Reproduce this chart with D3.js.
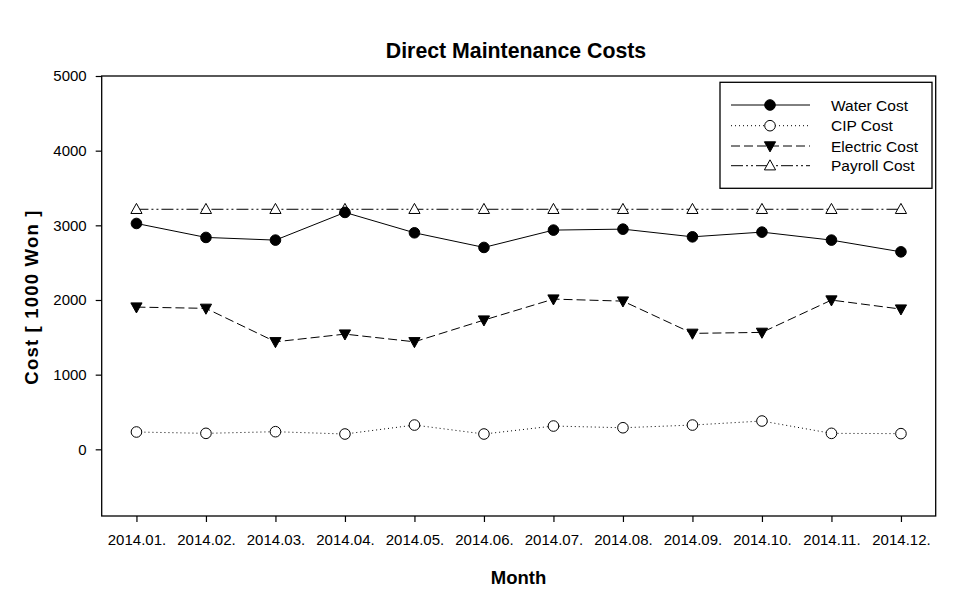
<!DOCTYPE html>
<html><head><meta charset="utf-8">
<script src="https://cdn.jsdelivr.net/npm/d3@7"></script>
<style>body{margin:0;background:#fff}svg{display:block}text{font-family:"Liberation Sans",Arial,sans-serif}</style>
</head><body>
<svg id="c" width="980" height="607"></svg>
<script>
const months = ["2014.01.","2014.02.","2014.03.","2014.04.","2014.05.","2014.06.","2014.07.","2014.08.","2014.09.","2014.10.","2014.11.","2014.12."];
const waterCost = [3025,2838,2802,3173,2900,2704,2936,2949,2846,2909,2802,2645];
const cipCost = [232,214,236,205,325,205,312,289,325,379,214,210];
const electricCost = [1905,1888,1440,1543,1440,1731,2012,1985,1553,1566,1999,1878];
const payrollCost = [3215,3215,3215,3215,3215,3215,3215,3215,3215,3215,3215,3215];
const yTicks = [0,1000,2000,3000,4000,5000];
const seriesNames = ["Water Cost","CIP Cost","Electric Cost","Payroll Cost"];

const svg = d3.select("#c");
const L=101.7, R=935.7, T=76, B=516;
const x = d3.scalePoint().domain(months).range([L,R]).padding(0.5);
const y = d3.scaleLinear().domain([-893,5000]).range([B,T]);

svg.append("rect").attr("x",L).attr("y",T).attr("width",R-L).attr("height",B-T)
  .attr("fill","none").attr("stroke","#000").attr("stroke-width",1.3);

const ya = svg.append("g").attr("transform",`translate(${L},0)`)
  .call(d3.axisLeft(y).tickValues(yTicks).tickSize(6).tickPadding(9).tickFormat(d3.format("d")));
const xa = svg.append("g").attr("transform",`translate(0,${B})`)
  .call(d3.axisBottom(x).tickSize(6).tickPadding(12));
[ya,xa].forEach(a=>{a.select(".domain").remove();
  a.selectAll("line").attr("stroke","#000").attr("stroke-width",1.2);
  a.selectAll("text").attr("font-size",15).attr("fill","#000").attr("font-family","'Liberation Sans',Arial,sans-serif");});

svg.append("text").attr("x",516).attr("y",58).attr("text-anchor","middle")
  .attr("font-size",21.3).attr("font-weight","bold").text("Direct Maintenance Costs");
svg.append("text").attr("x",518.5).attr("y",584).attr("text-anchor","middle")
  .attr("font-size",18.5).attr("font-weight","bold").text("Month");
svg.append("text").attr("transform","translate(38,297) rotate(-90)").attr("text-anchor","middle")
  .attr("font-size",18.5).attr("font-weight","bold").attr("letter-spacing",1.2).text("Cost [ 1000 Won ]");

const styles = [
  {data:waterCost, dash:null, marker:"circle", fill:"#000"},
  {data:cipCost, dash:"1,3", marker:"circle", fill:"#fff"},
  {data:electricCost, dash:"9,4", marker:"tdown", fill:"#000"},
  {data:payrollCost, dash:"12,3,2,3,2,3", marker:"tup", fill:"#fff"}
];
const line = d3.line().x((d,i)=>x(months[i])).y(d=>y(d));
function drawMarker(g, type, cx, cy, fill){
  if(type==="circle"){
    g.append("circle").attr("cx",cx).attr("cy",cy).attr("r",5.3).attr("fill",fill).attr("stroke","#000").attr("stroke-width",1);
  } else {
    const s=5.6;
    const pts = type==="tdown"
      ? [[cx-s,cy-s*0.75],[cx+s,cy-s*0.75],[cx,cy+s*1.05]]
      : [[cx-s,cy+s*0.75],[cx+s,cy+s*0.75],[cx,cy-s*1.05]];
    g.append("polygon").attr("points",pts.map(p=>p.join(",")).join(" ")).attr("fill",fill).attr("stroke","#000").attr("stroke-width",1);
  }
}
styles.forEach(s=>{
  svg.append("path").datum(s.data).attr("d",line).attr("fill","none").attr("stroke","#000")
    .attr("stroke-width",1).attr("stroke-dasharray",s.dash);
});
[1,2,3,0].forEach(k=>{
  const s=styles[k]; const g=svg.append("g");
  s.data.forEach((d,i)=>drawMarker(g,s.marker,x(months[i]),y(d),s.fill));
});

const lg = svg.append("g");
lg.append("rect").attr("x",720).attr("y",82.3).attr("width",212).attr("height",106)
  .attr("fill","#fff").attr("stroke","#000").attr("stroke-width",1.3);
const rowY=[105,125.7,146,165.7];
styles.forEach((s,i)=>{
  lg.append("line").attr("x1",731).attr("x2",810).attr("y1",rowY[i]).attr("y2",rowY[i])
    .attr("stroke","#000").attr("stroke-width",1).attr("stroke-dasharray",s.dash);
  drawMarker(lg,s.marker,770,rowY[i],s.fill);
  lg.append("text").attr("x",831).attr("y",rowY[i]+5.5).attr("font-size",15.5).text(seriesNames[i]);
});
</script>
</body></html>
